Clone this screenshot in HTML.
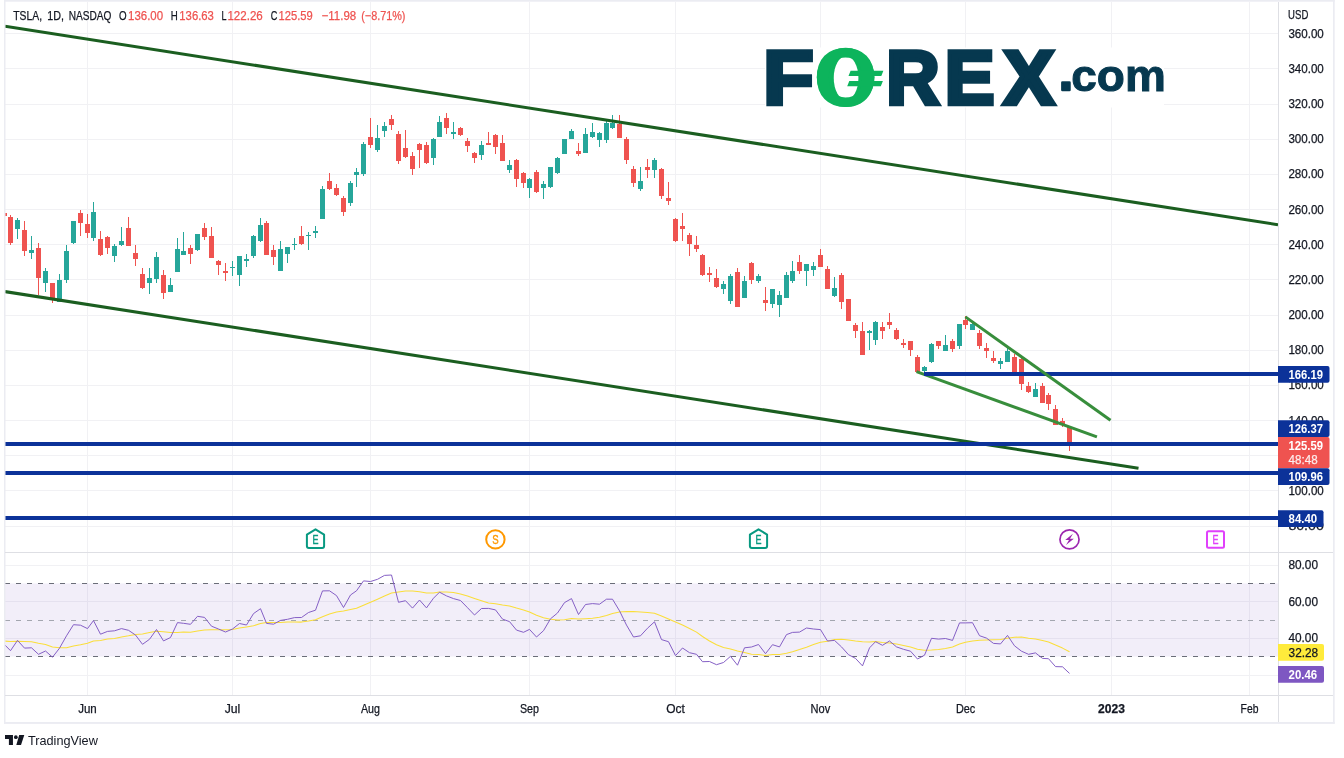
<!DOCTYPE html>
<html lang="en"><head><meta charset="utf-8"><title>TSLA, 1D, NASDAQ</title>
<style>html,body{margin:0;padding:0;background:#fff}body{width:1344px;height:758px;overflow:hidden;font-family:'Liberation Sans', sans-serif}</style>
</head><body>
<svg width="1344" height="758" viewBox="0 0 1344 758" style="display:block;will-change:transform">
<rect width="1344" height="758" fill="#fff"/>
<g shape-rendering="crispEdges" fill="#f1f1f4">
<rect x="5" y="33" width="1273" height="1"/>
<rect x="5" y="68" width="1273" height="1"/>
<rect x="5" y="104" width="1273" height="1"/>
<rect x="5" y="139" width="1273" height="1"/>
<rect x="5" y="174" width="1273" height="1"/>
<rect x="5" y="209" width="1273" height="1"/>
<rect x="5" y="244" width="1273" height="1"/>
<rect x="5" y="279" width="1273" height="1"/>
<rect x="5" y="315" width="1273" height="1"/>
<rect x="5" y="350" width="1273" height="1"/>
<rect x="5" y="385" width="1273" height="1"/>
<rect x="5" y="420" width="1273" height="1"/>
<rect x="5" y="455" width="1273" height="1"/>
<rect x="5" y="490" width="1273" height="1"/>
<rect x="5" y="526" width="1273" height="1"/>
<rect x="5" y="565" width="1273" height="1"/>
<rect x="5" y="601" width="1273" height="1"/>
<rect x="5" y="638" width="1273" height="1"/>
<rect x="5" y="675" width="1273" height="1"/>
<rect x="87" y="2" width="1" height="693"/>
<rect x="232" y="2" width="1" height="693"/>
<rect x="370" y="2" width="1" height="693"/>
<rect x="529" y="2" width="1" height="693"/>
<rect x="675" y="2" width="1" height="693"/>
<rect x="820" y="2" width="1" height="693"/>
<rect x="965" y="2" width="1" height="693"/>
<rect x="1111" y="2" width="1" height="693"/>
<rect x="1249" y="2" width="1" height="693"/>
</g>
<rect x="5" y="583.5" width="1273" height="73.0" fill="#7e57c2" fill-opacity="0.1"/>
<g stroke-dasharray="5 6" stroke-width="1" fill="none">
<path d="M5 583.5H1276M5 656.5H1276" stroke="#6a6d78"/>
<path d="M5 620.5H1276" stroke="#a3a6af"/>
</g>
<svg x="5" y="2" width="1273" height="550" viewBox="5 2 1273 550">
<g shape-rendering="crispEdges">
<rect x="1" y="213" width="6" height="3" fill="#ef5350"/>
<rect x="10" y="215" width="1" height="30" fill="#ef5350"/><rect x="8" y="217" width="5" height="26" fill="#ef5350"/>
<rect x="17" y="218" width="1" height="21" fill="#26a69a"/><rect x="15" y="220" width="5" height="9" fill="#26a69a"/>
<rect x="24" y="221" width="1" height="35" fill="#ef5350"/><rect x="22" y="230" width="5" height="21" fill="#ef5350"/>
<rect x="31" y="236" width="1" height="23" fill="#26a69a"/><rect x="29" y="250" width="5" height="3" fill="#26a69a"/>
<rect x="38" y="243" width="1" height="52" fill="#ef5350"/><rect x="36" y="248" width="5" height="30" fill="#ef5350"/>
<rect x="45" y="268" width="1" height="24" fill="#26a69a"/><rect x="43" y="271" width="5" height="12" fill="#26a69a"/>
<rect x="52" y="283" width="1" height="20" fill="#ef5350"/><rect x="50" y="283" width="5" height="16" fill="#ef5350"/>
<rect x="59" y="274" width="1" height="28" fill="#26a69a"/><rect x="57" y="280" width="5" height="22" fill="#26a69a"/>
<rect x="66" y="245" width="1" height="38" fill="#26a69a"/><rect x="64" y="251" width="5" height="29" fill="#26a69a"/>
<rect x="73" y="221" width="1" height="23" fill="#26a69a"/><rect x="71" y="221" width="5" height="22" fill="#26a69a"/>
<rect x="80" y="210" width="1" height="26" fill="#ef5350"/><rect x="78" y="213" width="5" height="10" fill="#ef5350"/>
<rect x="87" y="214" width="1" height="24" fill="#ef5350"/><rect x="85" y="224" width="5" height="9" fill="#ef5350"/>
<rect x="93" y="202" width="1" height="39" fill="#26a69a"/><rect x="91" y="212" width="5" height="26" fill="#26a69a"/>
<rect x="100" y="231" width="1" height="25" fill="#ef5350"/><rect x="98" y="239" width="5" height="16" fill="#ef5350"/>
<rect x="107" y="236" width="1" height="18" fill="#ef5350"/><rect x="105" y="237" width="5" height="11" fill="#ef5350"/>
<rect x="114" y="244" width="1" height="18" fill="#26a69a"/><rect x="112" y="246" width="5" height="10" fill="#26a69a"/>
<rect x="121" y="227" width="1" height="19" fill="#26a69a"/><rect x="119" y="241" width="5" height="4" fill="#26a69a"/>
<rect x="128" y="217" width="1" height="29" fill="#ef5350"/><rect x="126" y="228" width="5" height="18" fill="#ef5350"/>
<rect x="135" y="245" width="1" height="21" fill="#ef5350"/><rect x="133" y="253" width="5" height="6" fill="#ef5350"/>
<rect x="142" y="268" width="1" height="21" fill="#ef5350"/><rect x="140" y="274" width="5" height="14" fill="#ef5350"/>
<rect x="149" y="268" width="1" height="26" fill="#26a69a"/><rect x="147" y="278" width="5" height="5" fill="#26a69a"/>
<rect x="156" y="252" width="1" height="31" fill="#26a69a"/><rect x="154" y="257" width="5" height="22" fill="#26a69a"/>
<rect x="163" y="270" width="1" height="29" fill="#ef5350"/><rect x="161" y="275" width="5" height="18" fill="#ef5350"/>
<rect x="170" y="278" width="1" height="14" fill="#26a69a"/><rect x="168" y="285" width="5" height="7" fill="#26a69a"/>
<rect x="177" y="238" width="1" height="34" fill="#26a69a"/><rect x="175" y="249" width="5" height="23" fill="#26a69a"/>
<rect x="183" y="232" width="1" height="23" fill="#26a69a"/><rect x="181" y="251" width="5" height="4" fill="#26a69a"/>
<rect x="190" y="245" width="1" height="19" fill="#ef5350"/><rect x="188" y="248" width="5" height="6" fill="#ef5350"/>
<rect x="197" y="234" width="1" height="17" fill="#26a69a"/><rect x="195" y="234" width="5" height="16" fill="#26a69a"/>
<rect x="204" y="223" width="1" height="17" fill="#ef5350"/><rect x="202" y="228" width="5" height="9" fill="#ef5350"/>
<rect x="211" y="227" width="1" height="31" fill="#ef5350"/><rect x="209" y="236" width="5" height="22" fill="#ef5350"/>
<rect x="218" y="260" width="1" height="15" fill="#ef5350"/><rect x="216" y="261" width="5" height="4" fill="#ef5350"/>
<rect x="225" y="263" width="1" height="18" fill="#ef5350"/><rect x="223" y="271" width="5" height="2" fill="#ef5350"/>
<rect x="232" y="261" width="1" height="15" fill="#26a69a"/><rect x="230" y="267" width="5" height="1" fill="#26a69a"/>
<rect x="239" y="256" width="1" height="30" fill="#26a69a"/><rect x="237" y="256" width="5" height="19" fill="#26a69a"/>
<rect x="246" y="254" width="1" height="13" fill="#26a69a"/><rect x="244" y="259" width="5" height="2" fill="#26a69a"/>
<rect x="253" y="235" width="1" height="23" fill="#26a69a"/><rect x="251" y="236" width="5" height="20" fill="#26a69a"/>
<rect x="260" y="218" width="1" height="24" fill="#26a69a"/><rect x="258" y="225" width="5" height="16" fill="#26a69a"/>
<rect x="266" y="221" width="1" height="34" fill="#ef5350"/><rect x="264" y="223" width="5" height="32" fill="#ef5350"/>
<rect x="273" y="245" width="1" height="20" fill="#ef5350"/><rect x="271" y="250" width="5" height="7" fill="#ef5350"/>
<rect x="280" y="241" width="1" height="30" fill="#26a69a"/><rect x="278" y="249" width="5" height="22" fill="#26a69a"/>
<rect x="287" y="247" width="1" height="16" fill="#26a69a"/><rect x="285" y="247" width="5" height="7" fill="#26a69a"/>
<rect x="294" y="238" width="1" height="12" fill="#26a69a"/><rect x="292" y="244" width="5" height="1" fill="#26a69a"/>
<rect x="301" y="226" width="1" height="19" fill="#ef5350"/><rect x="299" y="236" width="5" height="8" fill="#ef5350"/>
<rect x="308" y="232" width="1" height="18" fill="#26a69a"/><rect x="306" y="235" width="5" height="1" fill="#26a69a"/>
<rect x="315" y="226" width="1" height="12" fill="#26a69a"/><rect x="313" y="231" width="5" height="2" fill="#26a69a"/>
<rect x="322" y="186" width="1" height="33" fill="#26a69a"/><rect x="320" y="189" width="5" height="30" fill="#26a69a"/>
<rect x="329" y="173" width="1" height="17" fill="#ef5350"/><rect x="327" y="181" width="5" height="8" fill="#ef5350"/>
<rect x="336" y="184" width="1" height="12" fill="#ef5350"/><rect x="334" y="188" width="5" height="7" fill="#ef5350"/>
<rect x="343" y="196" width="1" height="20" fill="#ef5350"/><rect x="341" y="198" width="5" height="14" fill="#ef5350"/>
<rect x="350" y="181" width="1" height="25" fill="#26a69a"/><rect x="348" y="183" width="5" height="20" fill="#26a69a"/>
<rect x="356" y="168" width="1" height="19" fill="#26a69a"/><rect x="354" y="172" width="5" height="3" fill="#26a69a"/>
<rect x="363" y="142" width="1" height="34" fill="#26a69a"/><rect x="361" y="144" width="5" height="30" fill="#26a69a"/>
<rect x="370" y="118" width="1" height="30" fill="#ef5350"/><rect x="368" y="137" width="5" height="8" fill="#ef5350"/>
<rect x="377" y="125" width="1" height="27" fill="#26a69a"/><rect x="375" y="138" width="5" height="12" fill="#26a69a"/>
<rect x="384" y="122" width="1" height="15" fill="#26a69a"/><rect x="382" y="126" width="5" height="5" fill="#26a69a"/>
<rect x="391" y="115" width="1" height="15" fill="#ef5350"/><rect x="389" y="119" width="5" height="6" fill="#ef5350"/>
<rect x="398" y="131" width="1" height="33" fill="#ef5350"/><rect x="396" y="134" width="5" height="27" fill="#ef5350"/>
<rect x="405" y="130" width="1" height="28" fill="#ef5350"/><rect x="403" y="148" width="5" height="9" fill="#ef5350"/>
<rect x="412" y="152" width="1" height="23" fill="#ef5350"/><rect x="410" y="156" width="5" height="13" fill="#ef5350"/>
<rect x="419" y="143" width="1" height="25" fill="#ef5350"/><rect x="417" y="144" width="5" height="6" fill="#ef5350"/>
<rect x="426" y="142" width="1" height="22" fill="#ef5350"/><rect x="424" y="145" width="5" height="18" fill="#ef5350"/>
<rect x="433" y="138" width="1" height="27" fill="#26a69a"/><rect x="431" y="139" width="5" height="19" fill="#26a69a"/>
<rect x="439" y="116" width="1" height="21" fill="#26a69a"/><rect x="437" y="122" width="5" height="15" fill="#26a69a"/>
<rect x="446" y="113" width="1" height="21" fill="#ef5350"/><rect x="444" y="118" width="5" height="10" fill="#ef5350"/>
<rect x="453" y="122" width="1" height="17" fill="#26a69a"/><rect x="451" y="132" width="5" height="2" fill="#26a69a"/>
<rect x="460" y="127" width="1" height="9" fill="#ef5350"/><rect x="458" y="128" width="5" height="7" fill="#ef5350"/>
<rect x="467" y="138" width="1" height="14" fill="#ef5350"/><rect x="465" y="141" width="5" height="5" fill="#ef5350"/>
<rect x="474" y="152" width="1" height="11" fill="#ef5350"/><rect x="472" y="153" width="5" height="5" fill="#ef5350"/>
<rect x="481" y="141" width="1" height="19" fill="#26a69a"/><rect x="479" y="145" width="5" height="10" fill="#26a69a"/>
<rect x="488" y="132" width="1" height="13" fill="#ef5350"/><rect x="486" y="143" width="5" height="2" fill="#ef5350"/>
<rect x="495" y="134" width="1" height="20" fill="#ef5350"/><rect x="493" y="135" width="5" height="12" fill="#ef5350"/>
<rect x="502" y="135" width="1" height="26" fill="#ef5350"/><rect x="500" y="143" width="5" height="18" fill="#ef5350"/>
<rect x="509" y="160" width="1" height="13" fill="#26a69a"/><rect x="507" y="165" width="5" height="5" fill="#26a69a"/>
<rect x="516" y="159" width="1" height="28" fill="#ef5350"/><rect x="514" y="160" width="5" height="19" fill="#ef5350"/>
<rect x="523" y="172" width="1" height="16" fill="#ef5350"/><rect x="521" y="173" width="5" height="10" fill="#ef5350"/>
<rect x="529" y="178" width="1" height="20" fill="#26a69a"/><rect x="527" y="179" width="5" height="9" fill="#26a69a"/>
<rect x="536" y="170" width="1" height="23" fill="#ef5350"/><rect x="534" y="172" width="5" height="20" fill="#ef5350"/>
<rect x="543" y="181" width="1" height="18" fill="#26a69a"/><rect x="541" y="184" width="5" height="4" fill="#26a69a"/>
<rect x="550" y="167" width="1" height="21" fill="#26a69a"/><rect x="548" y="167" width="5" height="20" fill="#26a69a"/>
<rect x="557" y="157" width="1" height="17" fill="#26a69a"/><rect x="555" y="158" width="5" height="15" fill="#26a69a"/>
<rect x="564" y="139" width="1" height="15" fill="#26a69a"/><rect x="562" y="139" width="5" height="15" fill="#26a69a"/>
<rect x="571" y="129" width="1" height="10" fill="#26a69a"/><rect x="569" y="131" width="5" height="8" fill="#26a69a"/>
<rect x="578" y="143" width="1" height="13" fill="#ef5350"/><rect x="576" y="151" width="5" height="3" fill="#ef5350"/>
<rect x="585" y="128" width="1" height="25" fill="#26a69a"/><rect x="583" y="134" width="5" height="19" fill="#26a69a"/>
<rect x="592" y="123" width="1" height="15" fill="#26a69a"/><rect x="590" y="132" width="5" height="5" fill="#26a69a"/>
<rect x="599" y="132" width="1" height="15" fill="#26a69a"/><rect x="597" y="133" width="5" height="7" fill="#26a69a"/>
<rect x="606" y="121" width="1" height="22" fill="#26a69a"/><rect x="604" y="123" width="5" height="17" fill="#26a69a"/>
<rect x="612" y="115" width="1" height="14" fill="#26a69a"/><rect x="610" y="123" width="5" height="5" fill="#26a69a"/>
<rect x="619" y="115" width="1" height="23" fill="#ef5350"/><rect x="617" y="124" width="5" height="14" fill="#ef5350"/>
<rect x="626" y="137" width="1" height="27" fill="#ef5350"/><rect x="624" y="139" width="5" height="21" fill="#ef5350"/>
<rect x="633" y="166" width="1" height="21" fill="#ef5350"/><rect x="631" y="169" width="5" height="14" fill="#ef5350"/>
<rect x="640" y="167" width="1" height="24" fill="#26a69a"/><rect x="638" y="181" width="5" height="8" fill="#26a69a"/>
<rect x="647" y="159" width="1" height="19" fill="#ef5350"/><rect x="645" y="167" width="5" height="3" fill="#ef5350"/>
<rect x="654" y="158" width="1" height="20" fill="#26a69a"/><rect x="652" y="160" width="5" height="10" fill="#26a69a"/>
<rect x="661" y="168" width="1" height="31" fill="#ef5350"/><rect x="659" y="169" width="5" height="27" fill="#ef5350"/>
<rect x="668" y="182" width="1" height="23" fill="#ef5350"/><rect x="666" y="198" width="5" height="3" fill="#ef5350"/>
<rect x="675" y="218" width="1" height="24" fill="#ef5350"/><rect x="673" y="219" width="5" height="22" fill="#ef5350"/>
<rect x="682" y="213" width="1" height="28" fill="#ef5350"/><rect x="680" y="226" width="5" height="3" fill="#ef5350"/>
<rect x="689" y="233" width="1" height="23" fill="#ef5350"/><rect x="687" y="235" width="5" height="9" fill="#ef5350"/>
<rect x="696" y="236" width="1" height="16" fill="#ef5350"/><rect x="694" y="245" width="5" height="4" fill="#ef5350"/>
<rect x="702" y="254" width="1" height="22" fill="#ef5350"/><rect x="700" y="255" width="5" height="20" fill="#ef5350"/>
<rect x="709" y="267" width="1" height="15" fill="#ef5350"/><rect x="707" y="273" width="5" height="2" fill="#ef5350"/>
<rect x="716" y="269" width="1" height="19" fill="#ef5350"/><rect x="714" y="278" width="5" height="9" fill="#ef5350"/>
<rect x="723" y="281" width="1" height="13" fill="#26a69a"/><rect x="721" y="284" width="5" height="5" fill="#26a69a"/>
<rect x="730" y="274" width="1" height="30" fill="#26a69a"/><rect x="728" y="276" width="5" height="25" fill="#26a69a"/>
<rect x="737" y="268" width="1" height="39" fill="#ef5350"/><rect x="735" y="272" width="5" height="35" fill="#ef5350"/>
<rect x="744" y="276" width="1" height="22" fill="#26a69a"/><rect x="742" y="281" width="5" height="17" fill="#26a69a"/>
<rect x="751" y="262" width="1" height="22" fill="#ef5350"/><rect x="749" y="263" width="5" height="17" fill="#ef5350"/>
<rect x="758" y="274" width="1" height="9" fill="#26a69a"/><rect x="756" y="276" width="5" height="5" fill="#26a69a"/>
<rect x="765" y="287" width="1" height="24" fill="#ef5350"/><rect x="763" y="300" width="5" height="3" fill="#ef5350"/>
<rect x="772" y="289" width="1" height="19" fill="#26a69a"/><rect x="770" y="289" width="5" height="15" fill="#26a69a"/>
<rect x="779" y="291" width="1" height="26" fill="#26a69a"/><rect x="777" y="295" width="5" height="10" fill="#26a69a"/>
<rect x="786" y="272" width="1" height="26" fill="#26a69a"/><rect x="784" y="275" width="5" height="23" fill="#26a69a"/>
<rect x="792" y="261" width="1" height="22" fill="#26a69a"/><rect x="790" y="271" width="5" height="10" fill="#26a69a"/>
<rect x="799" y="255" width="1" height="19" fill="#ef5350"/><rect x="797" y="262" width="5" height="9" fill="#ef5350"/>
<rect x="806" y="264" width="1" height="22" fill="#26a69a"/><rect x="804" y="264" width="5" height="7" fill="#26a69a"/>
<rect x="813" y="262" width="1" height="14" fill="#26a69a"/><rect x="811" y="266" width="5" height="4" fill="#26a69a"/>
<rect x="820" y="249" width="1" height="18" fill="#ef5350"/><rect x="818" y="255" width="5" height="12" fill="#ef5350"/>
<rect x="827" y="266" width="1" height="23" fill="#ef5350"/><rect x="825" y="269" width="5" height="20" fill="#ef5350"/>
<rect x="834" y="277" width="1" height="20" fill="#26a69a"/><rect x="832" y="288" width="5" height="8" fill="#26a69a"/>
<rect x="841" y="273" width="1" height="36" fill="#ef5350"/><rect x="839" y="275" width="5" height="27" fill="#ef5350"/>
<rect x="848" y="299" width="1" height="22" fill="#ef5350"/><rect x="846" y="299" width="5" height="22" fill="#ef5350"/>
<rect x="855" y="323" width="1" height="15" fill="#ef5350"/><rect x="853" y="325" width="5" height="6" fill="#ef5350"/>
<rect x="862" y="322" width="1" height="33" fill="#ef5350"/><rect x="860" y="331" width="5" height="24" fill="#ef5350"/>
<rect x="869" y="330" width="1" height="20" fill="#26a69a"/><rect x="867" y="331" width="5" height="2" fill="#26a69a"/>
<rect x="875" y="321" width="1" height="24" fill="#26a69a"/><rect x="873" y="322" width="5" height="18" fill="#26a69a"/>
<rect x="882" y="322" width="1" height="17" fill="#ef5350"/><rect x="880" y="327" width="5" height="4" fill="#ef5350"/>
<rect x="889" y="313" width="1" height="16" fill="#ef5350"/><rect x="887" y="322" width="5" height="3" fill="#ef5350"/>
<rect x="896" y="328" width="1" height="12" fill="#ef5350"/><rect x="894" y="330" width="5" height="9" fill="#ef5350"/>
<rect x="903" y="339" width="1" height="9" fill="#ef5350"/><rect x="901" y="343" width="5" height="2" fill="#ef5350"/>
<rect x="910" y="341" width="1" height="15" fill="#ef5350"/><rect x="908" y="341" width="5" height="9" fill="#ef5350"/>
<rect x="917" y="355" width="1" height="17" fill="#ef5350"/><rect x="915" y="357" width="5" height="15" fill="#ef5350"/>
<rect x="924" y="366" width="1" height="6" fill="#26a69a"/><rect x="922" y="367" width="5" height="4" fill="#26a69a"/>
<rect x="931" y="343" width="1" height="20" fill="#26a69a"/><rect x="929" y="344" width="5" height="18" fill="#26a69a"/>
<rect x="938" y="341" width="1" height="8" fill="#ef5350"/><rect x="936" y="341" width="5" height="5" fill="#ef5350"/>
<rect x="945" y="335" width="1" height="16" fill="#26a69a"/><rect x="943" y="345" width="5" height="6" fill="#26a69a"/>
<rect x="952" y="339" width="1" height="13" fill="#ef5350"/><rect x="950" y="341" width="5" height="8" fill="#ef5350"/>
<rect x="959" y="324" width="1" height="25" fill="#26a69a"/><rect x="957" y="324" width="5" height="22" fill="#26a69a"/>
<rect x="965" y="316" width="1" height="13" fill="#ef5350"/><rect x="963" y="320" width="5" height="5" fill="#ef5350"/>
<rect x="972" y="322" width="1" height="8" fill="#26a69a"/><rect x="970" y="324" width="5" height="6" fill="#26a69a"/>
<rect x="979" y="330" width="1" height="19" fill="#ef5350"/><rect x="977" y="333" width="5" height="13" fill="#ef5350"/>
<rect x="986" y="343" width="1" height="15" fill="#ef5350"/><rect x="984" y="348" width="5" height="3" fill="#ef5350"/>
<rect x="993" y="351" width="1" height="12" fill="#ef5350"/><rect x="991" y="358" width="5" height="3" fill="#ef5350"/>
<rect x="1000" y="358" width="1" height="11" fill="#26a69a"/><rect x="998" y="361" width="5" height="3" fill="#26a69a"/>
<rect x="1007" y="348" width="1" height="14" fill="#26a69a"/><rect x="1005" y="351" width="5" height="11" fill="#26a69a"/>
<rect x="1014" y="354" width="1" height="18" fill="#ef5350"/><rect x="1012" y="357" width="5" height="15" fill="#ef5350"/>
<rect x="1021" y="358" width="1" height="32" fill="#ef5350"/><rect x="1019" y="359" width="5" height="25" fill="#ef5350"/>
<rect x="1028" y="382" width="1" height="11" fill="#ef5350"/><rect x="1026" y="386" width="5" height="6" fill="#ef5350"/>
<rect x="1035" y="383" width="1" height="14" fill="#26a69a"/><rect x="1033" y="389" width="5" height="8" fill="#26a69a"/>
<rect x="1042" y="383" width="1" height="20" fill="#ef5350"/><rect x="1040" y="386" width="5" height="17" fill="#ef5350"/>
<rect x="1048" y="393" width="1" height="17" fill="#ef5350"/><rect x="1046" y="395" width="5" height="9" fill="#ef5350"/>
<rect x="1055" y="405" width="1" height="20" fill="#ef5350"/><rect x="1053" y="409" width="5" height="16" fill="#ef5350"/>
<rect x="1062" y="418" width="1" height="9" fill="#ef5350"/><rect x="1060" y="421" width="5" height="3" fill="#ef5350"/>
<rect x="1069" y="426" width="1" height="25" fill="#ef5350"/><rect x="1067" y="427" width="5" height="19" fill="#ef5350"/>
</g>
<g fill="none" stroke-linecap="butt">
<path d="M5 26.3L1278 224.7" stroke="#1b5e20" stroke-width="3.05"/>
<path d="M5 291.6L1138.5 468.3" stroke="#1b5e20" stroke-width="3.05"/>
</g>
<rect x="5" y="442" width="1273" height="4" fill="#0c3299" shape-rendering="crispEdges"/>
<rect x="5" y="471" width="1273" height="4" fill="#0c3299" shape-rendering="crispEdges"/>
<rect x="5" y="516" width="1273" height="4" fill="#0c3299" shape-rendering="crispEdges"/>
<path d="M916.5 371.6L1096.9 436.9" stroke="#388e3c" stroke-width="3" fill="none"/>
<rect x="924" y="372" width="354" height="4" fill="#0c3299" shape-rendering="crispEdges"/>
<path d="M965.4 316.9L1110.5 420.2" stroke="#388e3c" stroke-width="3" fill="none"/>
</svg>
<svg x="5" y="553" width="1273" height="142" viewBox="5 553 1273 142">
<path d="M4.5 641.1L10.5 641.5L17.5 641.3L24.5 641.6L31.5 641.8L38.5 643.2L45.5 644.4L52.5 646.9L59.5 647.8L66.5 647.7L73.5 646.1L80.5 644.8L87.5 643.2L93.5 640.9L100.5 640.5L107.5 639.1L114.5 638.4L121.5 637.0L128.5 635.8L135.5 634.4L142.5 633.9L149.5 632.6L156.5 631.3L163.5 631.7L170.5 632.6L177.5 632.4L183.5 632.0L190.5 632.3L197.5 631.0L204.5 630.0L211.5 629.7L218.5 629.7L225.5 629.8L232.5 629.4L239.5 627.9L246.5 626.9L253.5 625.8L260.5 623.5L266.5 622.5L273.5 622.6L280.5 622.4L287.5 622.0L294.5 622.1L301.5 622.1L308.5 621.1L315.5 619.8L322.5 616.8L329.5 614.1L336.5 612.1L343.5 610.9L350.5 609.5L356.5 608.3L363.5 605.2L370.5 602.2L377.5 599.2L384.5 596.1L391.5 593.1L398.5 592.0L405.5 591.1L412.5 591.0L419.5 591.7L426.5 592.9L433.5 593.1L439.5 592.0L446.5 592.0L453.5 592.6L460.5 594.0L467.5 595.9L474.5 598.4L481.5 600.8L488.5 603.1L495.5 603.7L502.5 605.0L509.5 606.0L516.5 608.1L523.5 609.9L529.5 612.1L536.5 615.3L543.5 617.8L550.5 619.2L557.5 620.1L564.5 619.7L571.5 618.6L578.5 619.0L585.5 618.7L592.5 618.3L599.5 617.2L606.5 615.6L612.5 613.4L619.5 611.9L626.5 611.6L633.5 611.6L640.5 611.9L647.5 612.6L654.5 613.2L661.5 615.9L668.5 618.9L675.5 621.9L682.5 625.0L689.5 628.5L696.5 632.1L702.5 636.5L709.5 641.0L716.5 644.8L723.5 647.5L730.5 648.9L737.5 651.0L744.5 652.4L751.5 654.2L758.5 654.5L765.5 655.4L772.5 654.6L779.5 654.5L786.5 653.2L792.5 651.7L799.5 649.6L806.5 647.2L813.5 644.6L820.5 642.3L827.5 641.2L834.5 639.4L841.5 639.3L848.5 639.9L855.5 640.9L862.5 641.7L869.5 642.0L875.5 641.6L882.5 642.4L889.5 643.0L896.5 644.0L903.5 645.5L910.5 647.1L917.5 649.2L924.5 650.2L931.5 650.1L938.5 649.5L945.5 648.4L952.5 647.1L959.5 644.0L965.5 642.2L972.5 640.9L979.5 640.2L986.5 640.0L993.5 639.7L1000.5 639.4L1007.5 638.2L1014.5 637.3L1021.5 637.0L1028.5 638.2L1035.5 639.1L1042.5 640.6L1048.5 641.9L1055.5 645.0L1062.5 648.1L1069.5 651.8" fill="none" stroke="#fade3a" stroke-width="1.05" stroke-linejoin="round"/>
<path d="M4.5 644.6L10.5 650.7L17.5 640.4L24.5 648.1L31.5 647.8L38.5 654.3L45.5 651.0L52.5 657.2L59.5 648.2L66.5 635.8L73.5 624.7L80.5 625.2L87.5 628.6L93.5 620.6L100.5 634.2L107.5 631.4L114.5 630.8L121.5 628.6L128.5 630.3L135.5 635.0L142.5 644.3L149.5 639.3L156.5 629.5L163.5 640.9L170.5 637.5L177.5 622.6L183.5 623.3L190.5 624.3L197.5 616.3L204.5 617.4L211.5 626.2L218.5 629.0L225.5 632.0L232.5 629.0L239.5 623.5L246.5 625.0L253.5 613.6L260.5 608.7L266.5 623.4L273.5 624.2L280.5 620.4L287.5 619.3L294.5 617.6L301.5 617.5L308.5 612.5L315.5 610.2L322.5 590.9L329.5 590.8L336.5 595.6L343.5 607.5L350.5 595.0L356.5 590.8L363.5 580.9L370.5 581.5L377.5 579.3L384.5 575.4L391.5 575.0L398.5 602.3L405.5 600.7L412.5 608.1L419.5 600.0L426.5 607.9L433.5 598.2L439.5 592.2L446.5 595.9L453.5 598.6L460.5 600.5L467.5 607.7L474.5 615.0L481.5 608.5L488.5 608.4L495.5 609.9L502.5 619.1L509.5 621.6L516.5 630.1L523.5 632.3L529.5 629.4L536.5 637.0L543.5 630.7L550.5 618.8L557.5 613.0L564.5 602.6L571.5 598.6L578.5 614.5L585.5 604.5L592.5 603.6L599.5 604.2L606.5 599.2L612.5 599.2L619.5 610.8L626.5 625.1L633.5 637.0L640.5 635.8L647.5 628.2L654.5 621.8L661.5 639.6L668.5 641.7L675.5 655.6L682.5 648.0L689.5 652.7L696.5 654.3L702.5 661.7L709.5 661.5L716.5 664.7L723.5 662.5L730.5 656.3L737.5 665.2L744.5 647.8L751.5 647.0L758.5 644.5L765.5 653.7L772.5 644.7L779.5 646.9L786.5 634.6L792.5 632.4L799.5 632.1L806.5 628.0L813.5 629.0L820.5 629.6L827.5 641.0L834.5 640.4L841.5 646.9L848.5 654.7L855.5 658.4L862.5 665.9L869.5 647.9L875.5 641.7L882.5 645.3L889.5 641.0L896.5 646.9L903.5 649.3L910.5 651.2L917.5 659.0L924.5 655.2L931.5 638.3L938.5 639.1L945.5 638.5L952.5 640.4L959.5 622.9L965.5 622.9L972.5 622.7L979.5 635.7L986.5 638.1L993.5 643.4L1000.5 643.9L1007.5 635.4L1014.5 645.8L1021.5 651.2L1028.5 654.3L1035.5 652.9L1042.5 658.4L1048.5 658.7L1055.5 666.6L1062.5 666.8L1069.5 673.4" fill="none" stroke="#7e57c2" stroke-width="0.95" stroke-linejoin="round"/>
</svg>
<g fill="#ebecf2">
<rect x="4" y="0" width="1330.7" height="1.7"/>
<rect x="4" y="0" width="1.5" height="723.8"/>
<rect x="1333" y="0" width="1.7" height="723.8"/>
<rect x="4" y="722" width="1330.7" height="1.9"/>
</g>
<g fill="#dedfe4" shape-rendering="crispEdges">
<rect x="5" y="552" width="1328" height="1"/>
<rect x="5" y="695" width="1328" height="1"/>
<rect x="1278" y="2" width="1" height="720"/>
</g>
<text x="1288.1" y="18.8" font-family="'Liberation Sans', sans-serif" font-size="12" fill="#131722" stroke="#131722" stroke-width="0.25" textLength="20.2" lengthAdjust="spacingAndGlyphs">USD</text>
<text x="1288.4" y="529.9" font-family="'Liberation Sans', sans-serif" font-size="12" fill="#131722" stroke="#131722" stroke-width="0.25" textLength="35.4" lengthAdjust="spacingAndGlyphs">80.00</text>
<text x="1288.4" y="494.8" font-family="'Liberation Sans', sans-serif" font-size="12" fill="#131722" stroke="#131722" stroke-width="0.25" textLength="35.4" lengthAdjust="spacingAndGlyphs">100.00</text>
<text x="1288.4" y="459.6" font-family="'Liberation Sans', sans-serif" font-size="12" fill="#131722" stroke="#131722" stroke-width="0.25" textLength="35.4" lengthAdjust="spacingAndGlyphs">120.00</text>
<text x="1288.4" y="424.5" font-family="'Liberation Sans', sans-serif" font-size="12" fill="#131722" stroke="#131722" stroke-width="0.25" textLength="35.4" lengthAdjust="spacingAndGlyphs">140.00</text>
<text x="1288.4" y="389.3" font-family="'Liberation Sans', sans-serif" font-size="12" fill="#131722" stroke="#131722" stroke-width="0.25" textLength="35.4" lengthAdjust="spacingAndGlyphs">160.00</text>
<text x="1288.4" y="354.1" font-family="'Liberation Sans', sans-serif" font-size="12" fill="#131722" stroke="#131722" stroke-width="0.25" textLength="35.4" lengthAdjust="spacingAndGlyphs">180.00</text>
<text x="1288.4" y="319.0" font-family="'Liberation Sans', sans-serif" font-size="12" fill="#131722" stroke="#131722" stroke-width="0.25" textLength="35.4" lengthAdjust="spacingAndGlyphs">200.00</text>
<text x="1288.4" y="283.8" font-family="'Liberation Sans', sans-serif" font-size="12" fill="#131722" stroke="#131722" stroke-width="0.25" textLength="35.4" lengthAdjust="spacingAndGlyphs">220.00</text>
<text x="1288.4" y="248.7" font-family="'Liberation Sans', sans-serif" font-size="12" fill="#131722" stroke="#131722" stroke-width="0.25" textLength="35.4" lengthAdjust="spacingAndGlyphs">240.00</text>
<text x="1288.4" y="213.5" font-family="'Liberation Sans', sans-serif" font-size="12" fill="#131722" stroke="#131722" stroke-width="0.25" textLength="35.4" lengthAdjust="spacingAndGlyphs">260.00</text>
<text x="1288.4" y="178.3" font-family="'Liberation Sans', sans-serif" font-size="12" fill="#131722" stroke="#131722" stroke-width="0.25" textLength="35.4" lengthAdjust="spacingAndGlyphs">280.00</text>
<text x="1288.4" y="143.2" font-family="'Liberation Sans', sans-serif" font-size="12" fill="#131722" stroke="#131722" stroke-width="0.25" textLength="35.4" lengthAdjust="spacingAndGlyphs">300.00</text>
<text x="1288.4" y="108.0" font-family="'Liberation Sans', sans-serif" font-size="12" fill="#131722" stroke="#131722" stroke-width="0.25" textLength="35.4" lengthAdjust="spacingAndGlyphs">320.00</text>
<text x="1288.4" y="72.9" font-family="'Liberation Sans', sans-serif" font-size="12" fill="#131722" stroke="#131722" stroke-width="0.25" textLength="35.4" lengthAdjust="spacingAndGlyphs">340.00</text>
<text x="1288.4" y="37.7" font-family="'Liberation Sans', sans-serif" font-size="12" fill="#131722" stroke="#131722" stroke-width="0.25" textLength="35.4" lengthAdjust="spacingAndGlyphs">360.00</text>
<text x="1288.4" y="568.8" font-family="'Liberation Sans', sans-serif" font-size="12" fill="#131722" stroke="#131722" stroke-width="0.25" textLength="29.6" lengthAdjust="spacingAndGlyphs">80.00</text>
<text x="1288.4" y="605.6" font-family="'Liberation Sans', sans-serif" font-size="12" fill="#131722" stroke="#131722" stroke-width="0.25" textLength="29.6" lengthAdjust="spacingAndGlyphs">60.00</text>
<text x="1288.4" y="641.6" font-family="'Liberation Sans', sans-serif" font-size="12" fill="#131722" stroke="#131722" stroke-width="0.25" textLength="29.6" lengthAdjust="spacingAndGlyphs">40.00</text>
<text x="78.2" y="712.8" font-family="'Liberation Sans', sans-serif" font-size="12" fill="#131722" stroke="#131722" stroke-width="0.25" textLength="18.6" lengthAdjust="spacingAndGlyphs">Jun</text>
<text x="224.7" y="712.8" font-family="'Liberation Sans', sans-serif" font-size="12" fill="#131722" stroke="#131722" stroke-width="0.25" textLength="15.6" lengthAdjust="spacingAndGlyphs">Jul</text>
<text x="361.0" y="712.8" font-family="'Liberation Sans', sans-serif" font-size="12" fill="#131722" stroke="#131722" stroke-width="0.25" textLength="19" lengthAdjust="spacingAndGlyphs">Aug</text>
<text x="520.0" y="712.8" font-family="'Liberation Sans', sans-serif" font-size="12" fill="#131722" stroke="#131722" stroke-width="0.25" textLength="19" lengthAdjust="spacingAndGlyphs">Sep</text>
<text x="666.2" y="712.8" font-family="'Liberation Sans', sans-serif" font-size="12" fill="#131722" stroke="#131722" stroke-width="0.25" textLength="18.6" lengthAdjust="spacingAndGlyphs">Oct</text>
<text x="810.6" y="712.8" font-family="'Liberation Sans', sans-serif" font-size="12" fill="#131722" stroke="#131722" stroke-width="0.25" textLength="19.7" lengthAdjust="spacingAndGlyphs">Nov</text>
<text x="955.9" y="712.8" font-family="'Liberation Sans', sans-serif" font-size="12" fill="#131722" stroke="#131722" stroke-width="0.25" textLength="19.3" lengthAdjust="spacingAndGlyphs">Dec</text>
<text x="1098.1" y="712.8" font-family="'Liberation Sans', sans-serif" font-size="12" fill="#131722" font-weight="bold" stroke="#131722" stroke-width="0.25" textLength="26.8" lengthAdjust="spacingAndGlyphs">2023</text>
<text x="1240.6" y="712.8" font-family="'Liberation Sans', sans-serif" font-size="12" fill="#131722" stroke="#131722" stroke-width="0.25" textLength="17.8" lengthAdjust="spacingAndGlyphs">Feb</text>
<path d="M1278 366H1327.5Q1329.5 366 1329.5 368V380.7Q1329.5 382.7 1327.5 382.7H1278Z" fill="#0c3299"/>
<text x="1288.6" y="378.6" font-family="'Liberation Sans', sans-serif" font-size="12" fill="#fff" font-weight="bold" textLength="34.4" lengthAdjust="spacingAndGlyphs">166.19</text>
<path d="M1278 420.2H1327.5Q1329.5 420.2 1329.5 422.2V435.1Q1329.5 437.1 1327.5 437.1H1278Z" fill="#0c3299"/>
<text x="1288.6" y="432.9" font-family="'Liberation Sans', sans-serif" font-size="12" fill="#fff" font-weight="bold" textLength="34.4" lengthAdjust="spacingAndGlyphs">126.37</text>
<path d="M1278 437.1H1327.5Q1329.5 437.1 1329.5 439.1V466.2Q1329.5 468.2 1327.5 468.2H1278Z" fill="#ef5350"/>
<text x="1288.6" y="449.9" font-family="'Liberation Sans', sans-serif" font-size="12" fill="#fff" font-weight="bold" textLength="34.4" lengthAdjust="spacingAndGlyphs">125.59</text>
<text x="1288.6" y="464.2" font-family="'Liberation Sans', sans-serif" font-size="12" fill="#fff" fill-opacity="0.85" stroke="#fff" stroke-width="0.25" stroke-opacity="0.85" textLength="29" lengthAdjust="spacingAndGlyphs">48:48</text>
<path d="M1278 468.2H1327.5Q1329.5 468.2 1329.5 470.2V483Q1329.5 485 1327.5 485H1278Z" fill="#0c3299"/>
<text x="1288.6" y="480.9" font-family="'Liberation Sans', sans-serif" font-size="12" fill="#fff" font-weight="bold" textLength="34.4" lengthAdjust="spacingAndGlyphs">109.96</text>
<path d="M1278 510.2H1321.5Q1323.5 510.2 1323.5 512.2V524.9Q1323.5 526.9 1321.5 526.9H1278Z" fill="#0c3299"/>
<text x="1288.6" y="522.8" font-family="'Liberation Sans', sans-serif" font-size="12" fill="#fff" font-weight="bold" textLength="28.6" lengthAdjust="spacingAndGlyphs">84.40</text>
<path d="M1278 644H1322Q1324 644 1324 646V658.7Q1324 660.7 1322 660.7H1278Z" fill="#ffeb3b"/>
<text x="1288.6" y="656.6" font-family="'Liberation Sans', sans-serif" font-size="12" fill="#131722" stroke="#131722" stroke-width="0.25" textLength="29.6" lengthAdjust="spacingAndGlyphs">32.28</text>
<path d="M1278 666H1322Q1324 666 1324 668V680.7Q1324 682.7 1322 682.7H1278Z" fill="#7e57c2"/>
<text x="1288.6" y="678.6" font-family="'Liberation Sans', sans-serif" font-size="12" fill="#fff" font-weight="bold" textLength="28.6" lengthAdjust="spacingAndGlyphs">20.46</text>
<text x="13.3" y="19.9" font-family="'Liberation Sans', sans-serif" font-size="12.3" fill="#131722" stroke="#131722" stroke-width="0.25" textLength="28.7" lengthAdjust="spacingAndGlyphs">TSLA,</text>
<text x="47.3" y="19.9" font-family="'Liberation Sans', sans-serif" font-size="12.3" fill="#131722" stroke="#131722" stroke-width="0.25" textLength="16.7" lengthAdjust="spacingAndGlyphs">1D,</text>
<text x="68.7" y="19.9" font-family="'Liberation Sans', sans-serif" font-size="12.3" fill="#131722" stroke="#131722" stroke-width="0.25" textLength="42.7" lengthAdjust="spacingAndGlyphs">NASDAQ</text>
<text x="119" y="19.9" font-family="'Liberation Sans', sans-serif" font-size="12.3" fill="#131722" stroke="#131722" stroke-width="0.25" textLength="7.6" lengthAdjust="spacingAndGlyphs">O</text>
<text x="128.1" y="19.9" font-family="'Liberation Sans', sans-serif" font-size="12.3" fill="#ef5350" stroke="#ef5350" stroke-width="0.25" textLength="35" lengthAdjust="spacingAndGlyphs">136.00</text>
<text x="170.7" y="19.9" font-family="'Liberation Sans', sans-serif" font-size="12.3" fill="#131722" stroke="#131722" stroke-width="0.25" textLength="7" lengthAdjust="spacingAndGlyphs">H</text>
<text x="179.3" y="19.9" font-family="'Liberation Sans', sans-serif" font-size="12.3" fill="#ef5350" stroke="#ef5350" stroke-width="0.25" textLength="34.6" lengthAdjust="spacingAndGlyphs">136.63</text>
<text x="221.6" y="19.9" font-family="'Liberation Sans', sans-serif" font-size="12.3" fill="#131722" stroke="#131722" stroke-width="0.25" textLength="5" lengthAdjust="spacingAndGlyphs">L</text>
<text x="227.4" y="19.9" font-family="'Liberation Sans', sans-serif" font-size="12.3" fill="#ef5350" stroke="#ef5350" stroke-width="0.25" textLength="35.4" lengthAdjust="spacingAndGlyphs">122.26</text>
<text x="270.7" y="19.9" font-family="'Liberation Sans', sans-serif" font-size="12.3" fill="#131722" stroke="#131722" stroke-width="0.25" textLength="6.6" lengthAdjust="spacingAndGlyphs">C</text>
<text x="278.6" y="19.9" font-family="'Liberation Sans', sans-serif" font-size="12.3" fill="#ef5350" stroke="#ef5350" stroke-width="0.25" textLength="34.2" lengthAdjust="spacingAndGlyphs">125.59</text>
<text x="321.6" y="19.9" font-family="'Liberation Sans', sans-serif" font-size="12.3" fill="#ef5350" stroke="#ef5350" stroke-width="0.25" textLength="34.6" lengthAdjust="spacingAndGlyphs">−11.98</text>
<text x="361.2" y="19.9" font-family="'Liberation Sans', sans-serif" font-size="12.3" fill="#ef5350" stroke="#ef5350" stroke-width="0.25" textLength="44.3" lengthAdjust="spacingAndGlyphs">(−8.71%)</text>
<path d="M315.5 529.3L324.1 534.6V546a2 2 0 0 1-2 2H308.9a2 2 0 0 1-2-2V534.6Z" fill="#fff" stroke="#089981" stroke-width="2" stroke-linejoin="round"/>
<text x="315.5" y="544.2" font-family="'Liberation Sans', sans-serif" font-size="12" fill="#089981" stroke="#089981" stroke-width="0.4" text-anchor="middle" textLength="6" lengthAdjust="spacingAndGlyphs">E</text>
<path d="M758.5 529.3L767.1 534.6V546a2 2 0 0 1-2 2H751.9a2 2 0 0 1-2-2V534.6Z" fill="#fff" stroke="#089981" stroke-width="2" stroke-linejoin="round"/>
<text x="758.5" y="544.2" font-family="'Liberation Sans', sans-serif" font-size="12" fill="#089981" stroke="#089981" stroke-width="0.4" text-anchor="middle" textLength="6" lengthAdjust="spacingAndGlyphs">E</text>
<circle cx="495.4" cy="539.4" r="9.2" fill="#fff" stroke="#ff9800" stroke-width="2"/>
<text x="495.4" y="543.8" font-family="'Liberation Sans', sans-serif" font-size="12" fill="#ff9800" stroke="#ff9800" stroke-width="0.4" text-anchor="middle" textLength="6.4" lengthAdjust="spacingAndGlyphs">S</text>
<circle cx="1069.5" cy="539.4" r="9.55" fill="#fff" stroke="#9c27b0" stroke-width="1.7"/>
<path d="M1072.9 533.8L1065.2 540.1H1069L1066 545L1073.8 538.7H1070Z" fill="#9c27b0"/>
<rect x="1207" y="531.2" width="17" height="16.6" rx="1.5" fill="#fff" stroke="#e040fb" stroke-width="2"/>
<text x="1215.5" y="543.9" font-family="'Liberation Sans', sans-serif" font-size="12" fill="#e040fb" stroke="#e040fb" stroke-width="0.4" text-anchor="middle" textLength="6" lengthAdjust="spacingAndGlyphs">E</text>
<rect x="765" y="47.5" width="399" height="60" fill="#fff"/>
<ellipse cx="845.7" cy="77.35" rx="28.9" ry="29.55" fill="#0db45c"/><ellipse cx="846.08" cy="78" rx="12.33" ry="21.9" fill="#fff"/>
<g font-family="'Liberation Sans', sans-serif" font-weight="bold"><text transform="translate(763.36 104.3) scale(1.077 1)" font-size="76.5" fill="#06384f" stroke="#06384f" stroke-width="4.5" stroke-linejoin="miter">F</text><text transform="translate(813.6 106.0) scale(0.99 1)" font-size="83.2" fill="#0db45c" stroke="#0db45c" stroke-width="0" stroke-linejoin="miter">O</text><path d="M850.6 70.7H883.4L881.3 75.9H848.5ZM849.3 81.1H882.9L880.8 86.3H847.2Z" fill="#0db45c"/><text transform="translate(886.2 104.3) scale(0.967 1)" font-size="76.5" fill="#06384f" stroke="#06384f" stroke-width="4.5" stroke-linejoin="miter">R</text><text transform="translate(944.87 104.3) scale(0.9757 1)" font-size="76.5" fill="#06384f" stroke="#06384f" stroke-width="4.5" stroke-linejoin="miter">E</text><text transform="translate(1003.3 104.3) scale(1.003 1)" font-size="76.5" fill="#06384f" stroke="#06384f" stroke-width="4.5" stroke-linejoin="miter">X</text><text transform="translate(1059.1 90.4) scale(1.0 1)" font-size="50" fill="#06384f" stroke="#06384f" stroke-width="2.6" stroke-linejoin="round">.</text><text transform="translate(1071.3 91.0) scale(1.045 1)" font-size="44" fill="#06384f" stroke="#06384f" stroke-width="1" stroke-linejoin="miter">com</text></g>
<path d="M5 735.1H12.95V744.9H8.9V738.9H5ZM19.2 735.1H24.3L21 744.9H16.3Z" fill="#131722"/><circle cx="15.85" cy="737.15" r="1.85" fill="#131722"/>
<text x="28" y="744.9" font-family="'Liberation Sans', sans-serif" font-size="12.9" fill="#131722" textLength="69.8" lengthAdjust="spacingAndGlyphs">TradingView</text>
</svg>
</body></html>
